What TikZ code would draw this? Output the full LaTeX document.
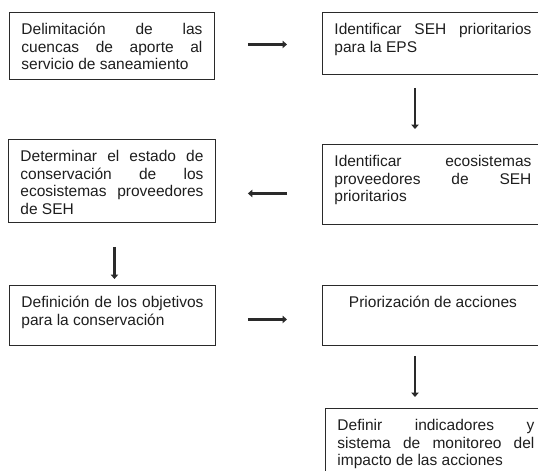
\documentclass[tikz,border=0pt]{standalone}
\usepackage{fontspec}
\setmainfont{Liberation Sans}
\usetikzlibrary{arrows.meta}
\definecolor{trazo}{HTML}{2A2A2A}
\definecolor{texto}{HTML}{1E1E1E}
\newcommand{\caja}[3]{\parbox[t][#2][t]{#1}{\hyphenpenalty=10000\exhyphenpenalty=10000\hbadness=10000\strut #3}}
\begin{document}
\begin{tikzpicture}[x = 1pt, y = -1pt,
    font = \fontsize{15.5}{17.6}\selectfont,
    paso/.style = {draw = trazo, line width = .9pt, text = texto, anchor = north west,
      inner xsep = 12pt, inner ysep = 10pt},
    flecha/.style = {draw = trazo, line width = 2.6pt, -{Triangle[length = 4.5pt, width = 7.5pt]}}]
  \useasboundingbox (0, 0) rectangle (538, 471);
  \clip (0, 0) rectangle (538, 471);
  \node[paso] (delim) at (9, 12) {\caja{181pt}{47pt}{Delimitación de las\linebreak cuencas de aporte al\linebreak servicio de saneamiento}};
  \node[paso] (seh) at (322, 12) {\caja{197pt}{42pt}{Identificar SEH prioritarios\linebreak para la EPS}};
  \node[paso] (estado) at (8, 139) {\caja{183pt}{63pt}{Determinar el estado de\linebreak conservación de los\linebreak ecosistemas proveedores\linebreak de SEH}};
  \node[paso] (ecos) at (322, 144) {\caja{197pt}{60pt}{Identificar ecosistemas\linebreak proveedores de SEH\linebreak prioritarios}};
  \node[paso] (objet) at (9, 285) {\caja{182pt}{40pt}{Definición de los objetivos\linebreak para la conservación}};
  \node[paso] (prior) at (322, 285) {\caja{197pt}{40pt}{\centering Priorización de acciones}};
  \node[paso] (indic) at (325, 408) {\caja{197pt}{46pt}{Definir indicadores y\linebreak sistema de monitoreo del\linebreak impacto de las acciones}};
  \draw[flecha, shorten <= 33pt, shorten >= 35pt] ([yshift = 1.5pt]delim.east) -- ([yshift = 1.5pt]delim.east -| seh.west);
  \draw[flecha, shorten <= 13pt, shorten >= 15pt] ([xshift = 93pt]seh.south west) -- ([xshift = 93pt]seh.south west |- ecos.north);
  \draw[flecha, shorten <= 35pt, shorten >= 32pt] ([yshift = -9pt]ecos.west) -- ([yshift = -9pt]ecos.west -| estado.east);
  \draw[flecha, shorten <= 24pt, shorten >= 6pt] ([xshift = 2.5pt]estado.south) -- ([xshift = 2.5pt]estado.south |- objet.north);
  \draw[flecha, shorten <= 32pt, shorten >= 35pt] ([yshift = -4pt]objet.east) -- ([yshift = -4pt]objet.east -| prior.west);
  \draw[flecha, shorten <= 10pt, shorten >= 11pt] ([xshift = 93pt]prior.south west) -- ([xshift = 93pt]prior.south west |- indic.north);
\end{tikzpicture}
\end{document}
